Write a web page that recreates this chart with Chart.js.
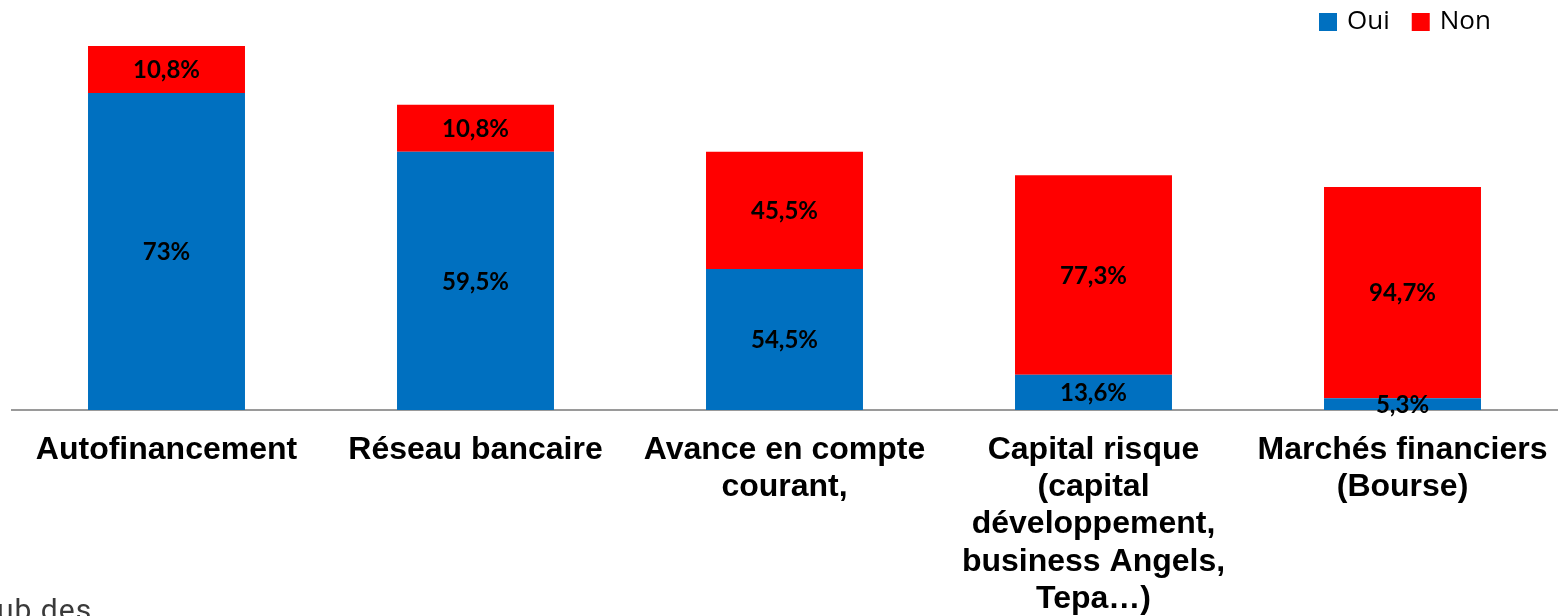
<!DOCTYPE html>
<html><head><meta charset="utf-8">
<script src="https://cdn.jsdelivr.net/npm/chart.js@4/dist/chart.umd.min.js"></script>
<style>
html,body{margin:0;padding:0;background:#fff;overflow:hidden;}
#wrap{position:relative;width:1560px;height:616px;overflow:hidden;}
#mark{position:absolute;left:-3px;top:593px;font-family:Roboto,sans-serif;font-size:30px;line-height:34px;color:#3a3a3a;letter-spacing:1px;white-space:nowrap;}
</style></head>
<body>
<div id="wrap"><canvas id="c" width="1560" height="616"></canvas><div id="mark">ub des</div></div>
<script>
const categories = [
  "Autofinancement",
  "Réseau bancaire",
  ["Avance en compte", "courant,"],
  ["Capital risque", "(capital", "développement,", "business Angels,", "Tepa…)"],
  ["Marchés financiers", "(Bourse)"]
];
const ouiCounts = [27, 22, 12, 3, 1];
const nonCounts = [4, 4, 10, 17, 18];
const ouiLabels = ["73%", "59,5%", "54,5%", "13,6%", "5,3%"];
const nonLabels = ["10,8%", "10,8%", "45,5%", "77,3%", "94,7%"];
const seriesNames = ["Oui", "Non"];
const seriesColors = ["#0070C0", "#FF0000"];

const labelPlugin = {
  id: 'barLabels',
  afterDatasetsDraw(chart) {
    const ctx = chart.ctx;
    const texts = [ouiLabels, nonLabels];
    ctx.save();
    ctx.font = 'bold 24px Lato, "Open Sans", sans-serif';
    ctx.fillStyle = '#000';
    ctx.textAlign = 'center';
    ctx.textBaseline = 'middle';
    chart.data.datasets.forEach((ds, di) => {
      const meta = chart.getDatasetMeta(di);
      meta.data.forEach((el, i) => {
        const p = el.getCenterPoint();
        ctx.fillText(texts[di][i], p.x, p.y + 1);
      });
    });
    ctx.restore();
  }
};

const legendPlugin = {
  id: 'customLegend',
  afterDraw(chart) {
    const ctx = chart.ctx;
    ctx.save();
    ctx.font = '26px "Open Sans", sans-serif';
    ctx.textBaseline = 'middle';
    ctx.textAlign = 'left';
    let x = 1319;
    chart.data.datasets.forEach((ds) => {
      ctx.fillStyle = ds.backgroundColor;
      ctx.fillRect(x, 13, 18, 18);
      ctx.fillStyle = '#000';
      ctx.fillText(ds.label, x + 28, 22);
      x += 28 + ctx.measureText(ds.label).width + 22;
    });
    ctx.restore();
  }
};

new Chart(document.getElementById('c'), {
  type: 'bar',
  data: {
    labels: categories,
    datasets: [
      { label: seriesNames[0], data: ouiCounts, backgroundColor: seriesColors[0], borderWidth: 0 },
      { label: seriesNames[1], data: nonCounts, backgroundColor: seriesColors[1], borderWidth: 0 }
    ]
  },
  options: {
    responsive: false,
    animation: false,
    layout: { padding: { left: 12, right: 3, top: 46, bottom: 0 } },
    plugins: {
      legend: { display: false },
      tooltip: { enabled: false }
    },
    datasets: { bar: { categoryPercentage: 1.0, barPercentage: 0.508 } },
    scales: {
      x: {
        stacked: true,
        grid: { display: false, drawTicks: false },
        border: { display: true, color: '#9a9a9a', width: 2 },
        ticks: {
          color: '#000',
          font: { family: '"Liberation Sans", Arial, sans-serif', size: 32, weight: 'bold', lineHeight: 1.17 },
          padding: 21,
          maxRotation: 0, autoSkip: false
        },
        afterFit(scale) {
          scale.height = 206;
          scale.paddingLeft = 0;
          scale.paddingRight = 0;
        }
      },
      y: {
        stacked: true,
        display: false,
        min: 0, max: 31
      }
    }
  },
  plugins: [labelPlugin, legendPlugin]
});
</script>
</body></html>
